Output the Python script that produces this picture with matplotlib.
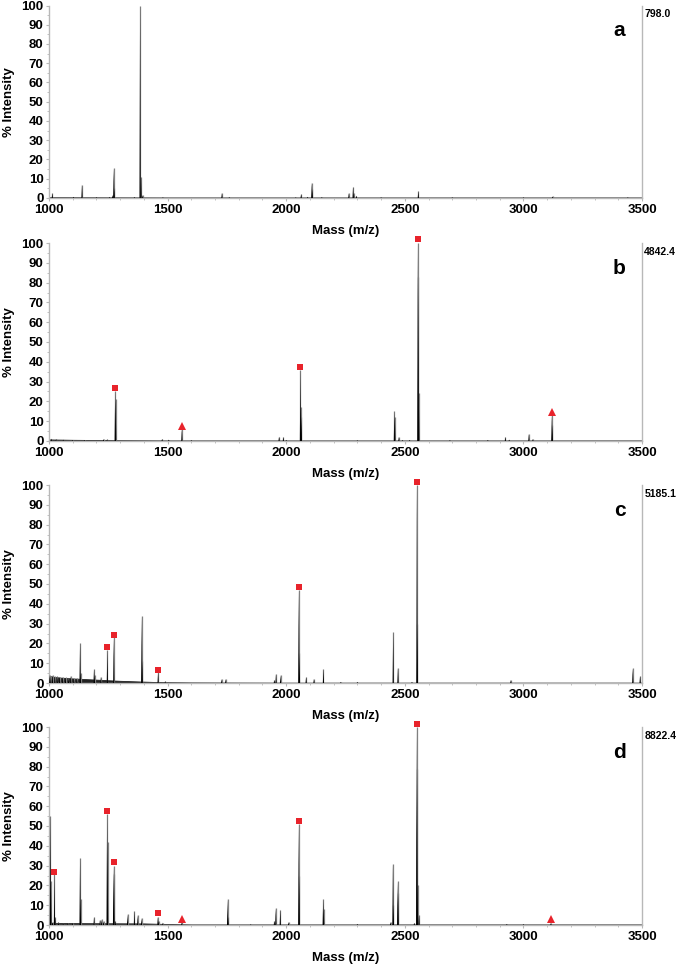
import matplotlib
matplotlib.use('Agg')
import matplotlib.pyplot as plt
from matplotlib.ticker import MultipleLocator
from matplotlib.collections import PolyCollection

plt.rcParams['font.family'] = ['Liberation Sans', 'DejaVu Sans']
plt.rcParams['font.weight'] = 'bold'

# ---------------- data ----------------
panel_letters = ['a', 'b', 'c', 'd']
max_counts = ['798.0', '4842.4', '5185.1', '8822.4']

# panel a
a_mz = [1014, 1103, 1139, 1200, 1255, 1268, 1273, 1275, 1360, 1384, 1388, 1395, 1480,
        1729, 1760, 2040, 2063, 2090, 2108, 2110, 2150, 2264, 2282, 2285, 2296, 2400,
        2557, 2700, 3000, 3123, 3440]
a_int = [2.4, 0.6, 6.8, 0.4, 0.5, 1.5, 15.4, 5.0, 0.5, 100, 11, 1.5, 0.3,
         2.5, 0.4, 0.3, 2.0, 0.6, 8.0, 4.5, 0.4, 2.5, 5.9, 2.5, 1.2, 0.3,
         3.6, 0.3, 0.3, 0.8, 0.3]
a_base_mz = [1000, 1500, 2000, 2500, 3000, 3500]
a_base_int = [0.4, 0.3, 0.3, 0.3, 0.3, 0.3]

# panel b
b_mz = [1010, 1030, 1060, 1100, 1150, 1230, 1245, 1279, 1281, 1477, 1505, 1560, 1600,
        1970, 1988, 2000, 2060, 2062, 2064, 2300, 2456, 2458, 2475, 2490, 2520, 2555,
        2557, 2559, 2690, 2850, 2924, 2940, 3023, 3040, 3120, 3122]
b_int = [1.2, 0.9, 0.7, 0.5, 0.4, 1.0, 0.8, 25, 21, 1.0, 0.7, 6.0, 0.4,
         2.2, 2.0, 0.5, 36, 17, 12, 0.3, 15, 12, 2.0, 0.5, 0.5, 100,
         83, 24, 0.4, 0.5, 2.0, 0.7, 3.5, 1.0, 13, 8]
b_base_mz = [1000, 1100, 1300, 1500, 2000, 2500, 3000, 3500]
b_base_int = [0.8, 0.6, 0.4, 0.3, 0.3, 0.3, 0.3, 0.3]
b_sq_mz = [1279, 2060, 2555]
b_sq_y = [26.6, 37.4, 102.0]
b_tri_mz = [1560, 3120]
b_tri_y = [7.7, 14.8]

# panel c
c_mz = [1003, 1008, 1015, 1025, 1035, 1045, 1058, 1070, 1082, 1092, 1105, 1118,
        1131, 1133, 1190, 1192, 1219, 1246, 1273, 1391, 1393, 1460, 1490, 1728, 1745,
        1950, 1957, 1976, 2053, 2056, 2084, 2117, 2157, 2230, 2300, 2451, 2471, 2530,
        2551, 2553, 2947, 3461, 3492]
c_int = [4.2, 3.5, 4.0, 3.5, 3.4, 3.2, 3.0, 2.8, 2.7, 3.5, 2.4, 2.3,
         20, 5, 7, 4, 3, 16.5, 23, 34, 11, 5.5, 0.8, 2.0, 2.0,
         1.5, 4.5, 4.0, 47, 15, 3.0, 2.0, 7.0, 0.5, 0.5, 25.6, 7.6, 0.5,
         100, 30, 1.5, 7.4, 3.5]
c_base_mz = [1000, 1020, 1050, 1100, 1150, 1200, 1250, 1300, 1350, 1400, 1450, 1500,
             1600, 1800, 2000, 2500, 3500]
c_base_int = [3.6, 3.1, 2.7, 2.3, 2.0, 1.7, 1.4, 1.1, 0.9, 0.7, 0.5, 0.4,
              0.3, 0.25, 0.2, 0.2, 0.2]
c_sq_mz = [1246, 1273, 1460, 2053, 2551]
c_sq_y = [18.3, 24.4, 6.5, 48.5, 101.4]

# panel d
d_mz = [1006, 1008, 1015, 1023, 1026, 1040, 1060, 1080, 1100, 1131, 1133, 1190, 1215,
        1222, 1230, 1245, 1247, 1272, 1274, 1280, 1331, 1360, 1374, 1390, 1459, 1462,
        1480, 1560, 1753, 1755, 1850, 1950, 1956, 1975, 2010, 2053, 2055, 2156, 2158,
        2300, 2440, 2450, 2452, 2470, 2472, 2540, 2550, 2552, 2554, 2560, 2930, 3000, 3116]
d_int = [55, 22, 1.5, 26, 4, 1.5, 1.0, 1.0, 1.0, 34, 13, 4, 2.5,
         2.8, 2.0, 56, 42, 30, 26, 2.0, 5.5, 7.0, 5.0, 3.5, 4.0, 2.0,
         1.2, 1.5, 13.3, 4.0, 0.3, 2.0, 8.5, 7.8, 1.5, 51, 25, 13, 8,
         0.5, 1.5, 31, 10, 22, 16, 1.0, 100, 79, 20, 5, 0.5, 0.4, 1.0]
d_base_mz = [1000, 1200, 1400, 1500, 1600, 2000, 2500, 3500]
d_base_int = [1.0, 0.9, 0.8, 0.5, 0.3, 0.3, 0.3, 0.3]
d_sq_mz = [1023, 1245, 1272, 1459, 2053, 2550]
d_sq_y = [27.0, 57.4, 31.7, 5.9, 52.7, 101.5]
d_tri_mz = [1560, 3116]
d_tri_y = [3.0, 3.0]

panels = [
    (a_mz, a_int, a_base_mz, a_base_int, [], [], [], []),
    (b_mz, b_int, b_base_mz, b_base_int, b_sq_mz, b_sq_y, b_tri_mz, b_tri_y),
    (c_mz, c_int, c_base_mz, c_base_int, c_sq_mz, c_sq_y, [], []),
    (d_mz, d_int, d_base_mz, d_base_int, d_sq_mz, d_sq_y, d_tri_mz, d_tri_y),
]

# ---------------- layout ----------------
W, H = 685, 964
x0_px, x1_px = 49, 642
axes_px = [(5.5, 198), (243, 441), (485, 683), (727, 925)]
red = '#e8232b'
spine_gray = '#b8b8b8'
half_w = 2.5  # peak half-width in m/z

fig = plt.figure(figsize=(W / 100, H / 100), dpi=100)
rect_marker = [(-1.3, -1), (1.3, -1), (1.3, 1), (-1.3, 1)]

for i, (mz, inten, bmz, bint, sqm, sqy, trm, try_) in enumerate(panels):
    top, bot = axes_px[i]
    ax = fig.add_axes([x0_px / W, 1 - bot / H, (x1_px - x0_px) / W, (bot - top) / H])
    ax.set_xlim(1000, 3500)
    ax.set_ylim(0, 100)

    # baseline
    ax.fill_between(bmz, 0, bint, color='#222222', lw=0.6, zorder=2)
    # peaks: gray thin line plus dark narrow triangle
    ax.vlines(mz, 0, inten, colors='#808080', linewidth=0.9, zorder=3)
    verts = [[(m - half_w, 0), (m, h), (m + half_w, 0)] for m, h in zip(mz, inten)]
    pc = PolyCollection(verts, facecolors='#000000', edgecolors='none', zorder=4)
    ax.add_collection(pc)

    if sqm:
        ax.plot(sqm, sqy, linestyle='none', marker=rect_marker, markersize=5.0,
                color=red, markeredgewidth=0, clip_on=False, zorder=5)
    if trm:
        ax.plot(trm, try_, linestyle='none', marker='^', markersize=5.5,
                color=red, markeredgewidth=0, clip_on=False, zorder=5)

    ax.spines['top'].set_visible(False)
    for s in ['left', 'bottom', 'right']:
        ax.spines[s].set_color(spine_gray)
        ax.spines[s].set_linewidth(1.0)

    ax.xaxis.set_major_locator(MultipleLocator(500))
    ax.xaxis.set_minor_locator(MultipleLocator(100))
    ax.yaxis.set_major_locator(MultipleLocator(10))
    ax.yaxis.set_minor_locator(MultipleLocator(5))
    ax.tick_params(axis='both', which='major', length=2.5, width=0.8, color=spine_gray,
                   labelsize=9.5, pad=1.5)
    ax.tick_params(axis='both', which='minor', length=1.5, width=0.6, color=spine_gray)
    ax.tick_params(axis='y', which='both', right=False)
    for lab in ax.get_xticklabels() + ax.get_yticklabels():
        lab.set_fontweight('bold')

    ax.set_xlabel('Mass (m/z)', fontsize=9.5, fontweight='bold', labelpad=7)
    ax.set_ylabel('% Intensity', fontsize=9.5, fontweight='bold')
    ax.yaxis.set_label_coords(-(x0_px - 15) / (x1_px - x0_px), 0.5)

    ax.text(0.962, 0.87, panel_letters[i], transform=ax.transAxes, fontsize=15,
            fontweight='bold', ha='center', va='center')
    ax.text(1.004, 0.955, max_counts[i], transform=ax.transAxes, fontsize=7.5,
            fontweight='bold', ha='left', va='center')

fig.savefig('out.png', dpi=100)
